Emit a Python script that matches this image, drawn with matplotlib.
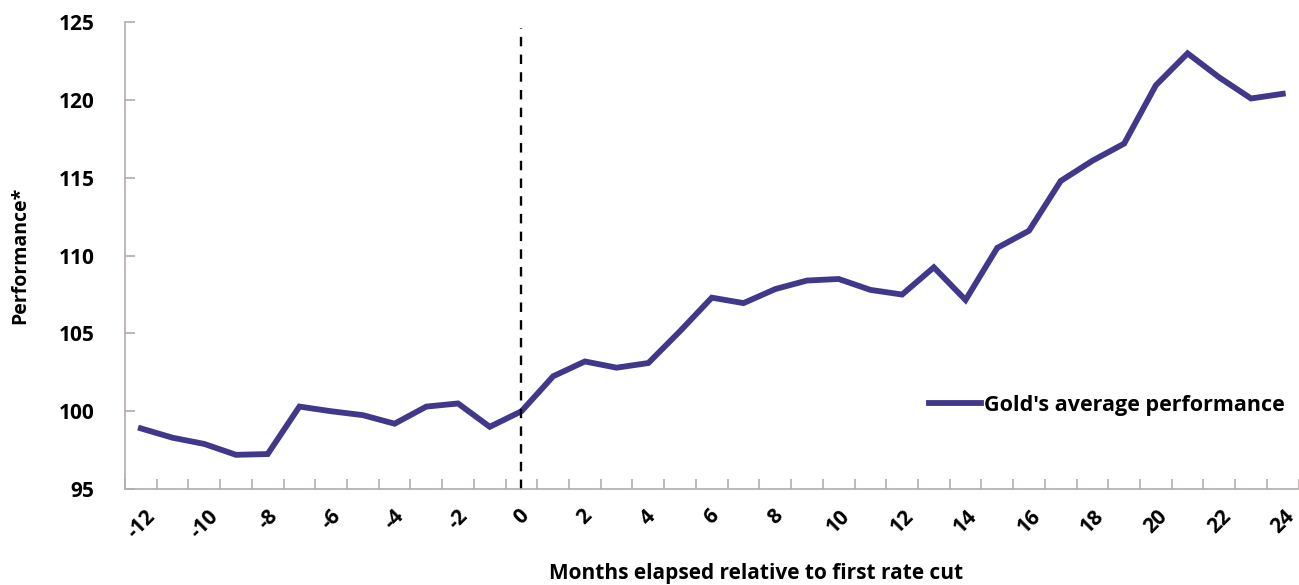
import matplotlib.pyplot as plt

plt.rcParams['font.family'] = ['Open Sans', 'DejaVu Sans']

months = list(range(-12, 25))
gold_perf = [98.9, 98.3, 97.9, 97.2, 97.25, 100.3, 100.0, 99.75, 99.2, 100.3,
             100.5, 99.0, 100.0, 102.25, 103.2, 102.8, 103.1, 105.15, 107.3,
             106.95, 107.85, 108.4, 108.5, 107.8, 107.5, 109.25, 107.15, 110.5,
             111.6, 114.8, 116.1, 117.2, 120.95, 123.0, 121.45, 120.1, 120.4]
yticks = [95, 100, 105, 110, 115, 120, 125]
xticklabels = list(range(-12, 25, 2))

line_color = '#41388c'
axis_color = '#b3acac'

fig = plt.figure(figsize=(12.99, 5.85), dpi=100)
ax = fig.add_axes([0.0962, 0.164, 0.9035, 0.798])

ax.plot(months, gold_perf, color=line_color, lw=4.2, solid_joinstyle='miter',
        label="Gold's average performance")
ax.vlines(0, 95, 124.6, colors='black', linestyles=(0, (4, 3.5)), lw=1.7)

ax.set_xlim(-12.5, 24.5)
ax.set_ylim(95, 125)
ax.set_yticks(yticks)
ax.set_yticklabels([str(v) for v in yticks], fontsize=15, fontweight='bold')

# category style: minor ticks between months, labels every 2 months
ax.set_xticks([m - 0.5 for m in range(-12, 26)], minor=True)
ax.set_xticks(xticklabels)
ax.set_xticklabels([str(v) for v in xticklabels], fontsize=15, fontweight='bold',
                   rotation=45, ha='center', va='top')
ax.tick_params(axis='x', which='major', length=0, pad=12)
ax.tick_params(axis='x', which='minor', direction='in', length=7, color=axis_color, width=1.2)
ax.tick_params(axis='y', direction='in', length=7, color=axis_color, width=1.2, pad=22)

for s in ['top', 'right']:
    ax.spines[s].set_visible(False)
for s in ['left', 'bottom']:
    ax.spines[s].set_color(axis_color)
    ax.spines[s].set_linewidth(1.2)

ax.set_ylabel('Performance*', fontsize=14, fontweight='bold', labelpad=20)
ax.set_xlabel('Months elapsed relative to first rate cut', fontsize=15,
              fontweight='bold')
ax.xaxis.set_label_coords(0.538, -0.158)

ax.legend(loc='center right', bbox_to_anchor=(1.005, 0.18), frameon=False,
          prop={'size': 15.5, 'weight': 'bold'}, handlelength=2.4, handletextpad=0.15)

fig.savefig('out.png', dpi=100)
